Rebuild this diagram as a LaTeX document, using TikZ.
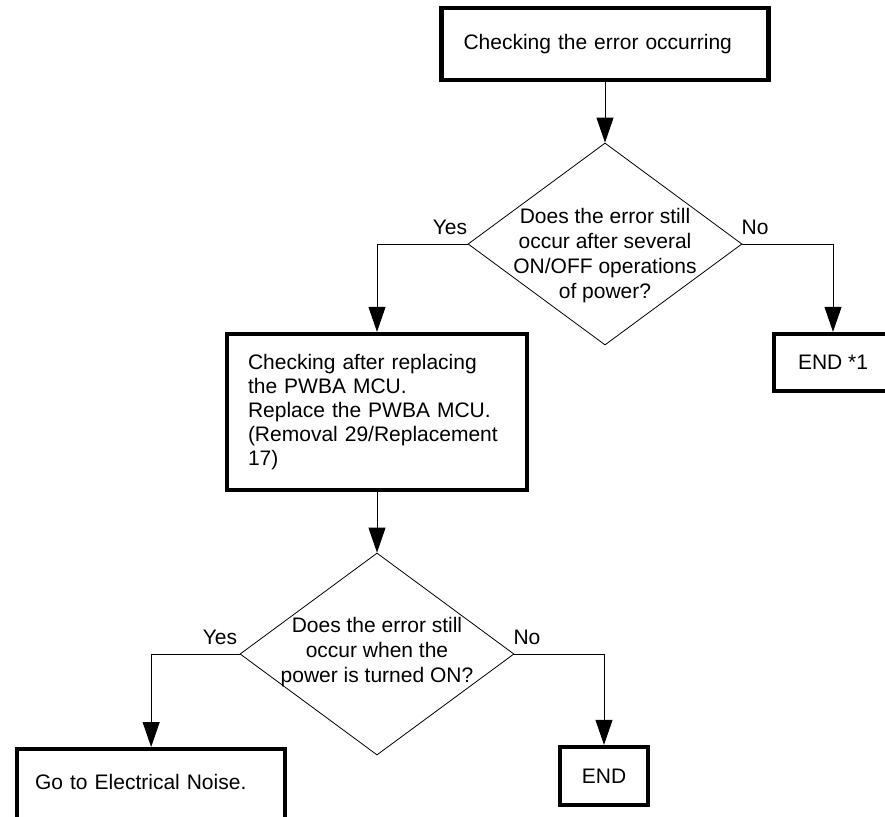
\documentclass[tikz,border=0pt]{standalone}
\usepackage{fontspec}
\setmainfont{Liberation Sans}
\usetikzlibrary{shapes.geometric,arrows.meta}
\tikzset{
  box/.style={draw=black,line width=4.3pt,rectangle,inner sep=0pt},
  dia/.style={draw=black,line width=0.8pt,diamond,inner sep=0pt,minimum width=274pt,minimum height=202pt},
  arr/.style={draw=black,line width=0.9pt,-{Triangle[length=25pt,width=17pt]}},
  lbl/.style={inner sep=0pt,font=\fontsize{21}{25}\selectfont},
  txt/.style={inner sep=0pt,align=center,font=\fontsize{21}{25}\selectfont}
}
\begin{document}
\begin{tikzpicture}[x=1pt,y=1pt]
\useasboundingbox (0,0) rectangle (885,-816);
\clip (0,0) rectangle (885,-816);
\fill[white] (0,0) rectangle (885,-816);

\node[box,minimum width=327pt,minimum height=72pt,text width=283pt,inner xsep=22pt,align=left,
      font=\fontsize{21}{24}\selectfont] (top) at (605,-44) {Checking the error occurring};

\node[dia] (d1) at (605,-244) {};
\node[txt] (d1t) at (605,-256) {Does the error still\\occur after several\\ON/OFF operations\\of power?};

\node[box,minimum width=300pt,minimum height=156pt,text width=258pt,inner xsep=21pt,align=left,
      font=\fontsize{21}{24}\selectfont] (mid) at (377,-412)
  {Checking after replacing\\the PWBA MCU.\\Replace the PWBA MCU.\\(Removal 29/Replacement\\17)};

\node[box,minimum width=118pt,minimum height=57pt,font=\fontsize{21}{24}\selectfont] (end1) at (833,-362.5) {END *1};

\node[dia] (d2) at (377,-654) {};
\node[txt] (d2t) at (377,-652) {Does the error still\\occur when the\\power is turned ON?};

\node[box,anchor=north west,text width=232pt,inner xsep=18pt,align=left,text height=40pt,text depth=70pt,
      font=\fontsize{21}{24}\selectfont] (go) at (15,-747) {Go to Electrical Noise.};

\node[box,minimum width=88pt,minimum height=58pt,font=\fontsize{21}{24}\selectfont] (end) at (604,-776) {END};

\node[lbl] (y1) at (450,-227) {Yes};
\node[lbl] (n1) at (755,-227) {No};
\node[lbl] (y2) at (220,-637) {Yes};
\node[lbl] (n2) at (527,-637) {No};

\draw[arr] (top.south) -- (d1.north);
\draw[arr] (d1.west) -| (mid.north);
\draw[arr] (d1.east) -| (end1.north);
\draw[arr] (mid.south) -- (d2.north);
\draw[arr] (d2.west) -| (go.north);
\draw[arr] (d2.east) -| (end.north);
\end{tikzpicture}
\end{document}
